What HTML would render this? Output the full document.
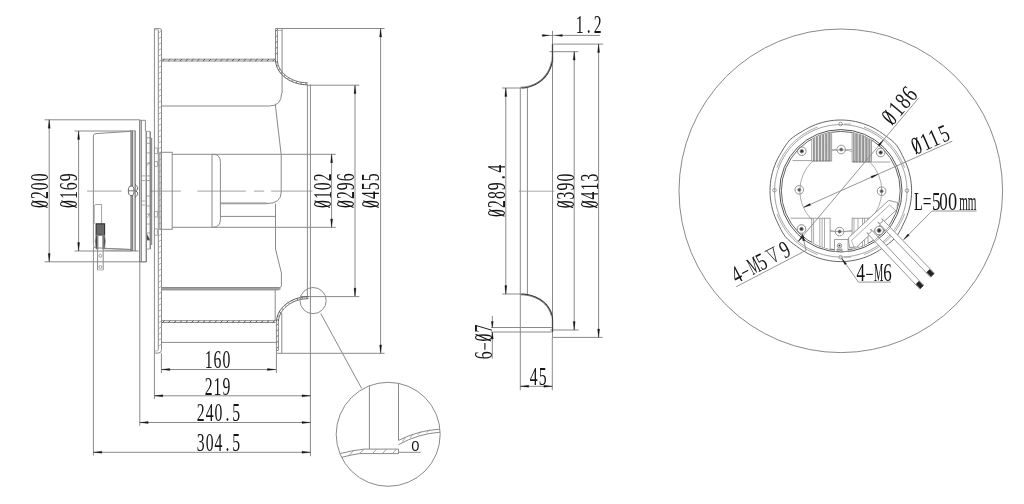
<!DOCTYPE html>
<html><head><meta charset="utf-8"><style>
html,body{margin:0;padding:0;background:#fff;width:1024px;height:504px;overflow:hidden;}
svg{display:block;will-change:transform;}

</style></head><body>
<svg width="1024" height="504" viewBox="0 0 1024 504">
<rect width="1024" height="504" fill="#fff"/>
<line x1="87.00" y1="191.10" x2="121.60" y2="191.10" stroke="#8a8a8a" stroke-width="0.8" />
<line x1="150.30" y1="191.10" x2="180.80" y2="191.10" stroke="#8a8a8a" stroke-width="0.8" />
<line x1="197.50" y1="191.10" x2="245.80" y2="191.10" stroke="#8a8a8a" stroke-width="0.8" />
<line x1="254.00" y1="191.10" x2="264.20" y2="191.10" stroke="#8a8a8a" stroke-width="0.8" />
<line x1="271.10" y1="191.10" x2="312.40" y2="191.10" stroke="#8a8a8a" stroke-width="0.8" />
<line x1="44.50" y1="119.80" x2="140.00" y2="119.80" stroke="#8a8a8a" stroke-width="1.0" />
<line x1="44.50" y1="261.80" x2="146.00" y2="261.80" stroke="#8a8a8a" stroke-width="1.0" />
<line x1="49.20" y1="119.80" x2="49.20" y2="261.80" stroke="#8a8a8a" stroke-width="1.0" />
<path d="M49.20,119.80 L50.20,128.20 L48.20,128.20 Z" fill="#151515" stroke="#151515" stroke-width="0.3"/>
<path d="M49.20,261.80 L48.20,253.40 L50.20,253.40 Z" fill="#151515" stroke="#151515" stroke-width="0.3"/>
<g transform="translate(48.00,190.70) rotate(-90)" font-family="Liberation Serif" font-size="24.8" fill="#151515" text-anchor="middle"><text transform="translate(-13.35,0) scale(0.635,1)">0</text><line x1="-16.75" y1="-0.5" x2="-9.95" y2="-15.92" stroke="#151515" stroke-width="1.1"/><text transform="translate(-4.45,0) scale(0.635,1)">2</text><text transform="translate(4.45,0) scale(0.635,1)">0</text><text transform="translate(13.35,0) scale(0.635,1)">0</text></g>
<line x1="74.50" y1="131.00" x2="131.00" y2="131.00" stroke="#8a8a8a" stroke-width="1.0" />
<line x1="74.50" y1="251.00" x2="138.60" y2="251.00" stroke="#8a8a8a" stroke-width="1.0" />
<line x1="78.60" y1="131.00" x2="78.60" y2="251.00" stroke="#8a8a8a" stroke-width="1.0" />
<path d="M78.60,131.00 L79.60,139.40 L77.60,139.40 Z" fill="#151515" stroke="#151515" stroke-width="0.3"/>
<path d="M78.60,251.00 L77.60,242.60 L79.60,242.60 Z" fill="#151515" stroke="#151515" stroke-width="0.3"/>
<g transform="translate(77.20,190.70) rotate(-90)" font-family="Liberation Serif" font-size="24.8" fill="#151515" text-anchor="middle"><text transform="translate(-13.35,0) scale(0.635,1)">0</text><line x1="-16.75" y1="-0.5" x2="-9.95" y2="-15.92" stroke="#151515" stroke-width="1.1"/><text transform="translate(-4.45,0) scale(0.635,1)">1</text><text transform="translate(4.45,0) scale(0.635,1)">6</text><text transform="translate(13.35,0) scale(0.635,1)">9</text></g>
<path d="M93.4,245 L93.4,136 Q93.4,133.7 96,133.6 L130,131.4" stroke="#8a8a8a" stroke-width="1.0" fill="none" />
<path d="M93.4,245 Q93.4,247.8 96,247.8 L130.5,249.6" stroke="#8a8a8a" stroke-width="1.0" fill="none" />
<line x1="104.60" y1="248.60" x2="131.00" y2="249.40" stroke="#8a8a8a" stroke-width="0.9" />
<line x1="104.60" y1="250.20" x2="131.00" y2="251.00" stroke="#8a8a8a" stroke-width="0.6" />
<line x1="131.10" y1="130.60" x2="131.10" y2="251.00" stroke="#555" stroke-width="1.1" />
<line x1="132.70" y1="130.60" x2="132.70" y2="251.00" stroke="#555" stroke-width="0.9" />
<line x1="135.10" y1="130.60" x2="135.10" y2="251.00" stroke="#555" stroke-width="1.0" />
<line x1="130.00" y1="130.80" x2="135.10" y2="130.80" stroke="#8a8a8a" stroke-width="0.8" />
<line x1="139.80" y1="120.30" x2="139.80" y2="262.00" stroke="#555" stroke-width="1.0" />
<line x1="141.40" y1="120.30" x2="141.40" y2="262.00" stroke="#666" stroke-width="0.8" />
<line x1="145.40" y1="120.30" x2="145.40" y2="131.40" stroke="#8a8a8a" stroke-width="1.0" />
<line x1="139.80" y1="120.30" x2="145.40" y2="120.30" stroke="#8a8a8a" stroke-width="1.0" />
<line x1="139.80" y1="261.80" x2="146.20" y2="261.80" stroke="#8a8a8a" stroke-width="1.0" />
<line x1="146.20" y1="131.40" x2="146.20" y2="262.00" stroke="#555" stroke-width="1.0" />
<line x1="150.20" y1="131.40" x2="150.20" y2="249.00" stroke="#555" stroke-width="1.0" />
<line x1="151.70" y1="137.80" x2="151.70" y2="245.00" stroke="#666" stroke-width="0.9" />
<line x1="146.20" y1="131.40" x2="150.20" y2="131.40" stroke="#8a8a8a" stroke-width="0.8" />
<line x1="146.20" y1="137.80" x2="150.20" y2="137.80" stroke="#8a8a8a" stroke-width="0.8" />
<line x1="146.20" y1="143.30" x2="150.20" y2="143.30" stroke="#8a8a8a" stroke-width="0.8" />
<line x1="146.20" y1="152.90" x2="150.20" y2="152.90" stroke="#8a8a8a" stroke-width="0.8" />
<line x1="146.20" y1="163.20" x2="150.20" y2="163.20" stroke="#8a8a8a" stroke-width="0.8" />
<line x1="146.20" y1="175.90" x2="150.20" y2="175.90" stroke="#8a8a8a" stroke-width="0.8" />
<line x1="146.20" y1="180.60" x2="150.20" y2="180.60" stroke="#8a8a8a" stroke-width="0.8" />
<line x1="146.20" y1="196.00" x2="150.20" y2="196.00" stroke="#8a8a8a" stroke-width="0.8" />
<line x1="146.20" y1="206.00" x2="150.20" y2="206.00" stroke="#8a8a8a" stroke-width="0.8" />
<line x1="146.20" y1="214.00" x2="150.20" y2="214.00" stroke="#8a8a8a" stroke-width="0.8" />
<line x1="146.20" y1="224.00" x2="150.20" y2="224.00" stroke="#8a8a8a" stroke-width="0.8" />
<line x1="146.20" y1="233.00" x2="150.20" y2="233.00" stroke="#8a8a8a" stroke-width="0.8" />
<line x1="146.20" y1="240.00" x2="150.20" y2="240.00" stroke="#8a8a8a" stroke-width="0.8" />
<line x1="146.20" y1="249.00" x2="150.20" y2="249.00" stroke="#8a8a8a" stroke-width="0.8" />
<line x1="141.40" y1="175.90" x2="145.40" y2="175.90" stroke="#8a8a8a" stroke-width="0.7" />
<line x1="141.40" y1="180.60" x2="145.40" y2="180.60" stroke="#8a8a8a" stroke-width="0.7" />
<line x1="141.40" y1="201.00" x2="145.40" y2="201.00" stroke="#8a8a8a" stroke-width="0.7" />
<line x1="141.40" y1="205.00" x2="145.40" y2="205.00" stroke="#8a8a8a" stroke-width="0.7" />
<path d="M146.6,233.6 L150,240 L147,240 Z" stroke="#8a8a8a" stroke-width="0.6" fill="#333" />
<path d="M147,218 L149.5,214 L150.5,218" stroke="#8a8a8a" stroke-width="0.6" fill="none" />
<path d="M147,166 L149.5,162 L150.5,166" stroke="#8a8a8a" stroke-width="0.6" fill="none" />
<rect x="154.30" y="148.00" width="3.00" height="5.70" rx="0" stroke="#8a8a8a" stroke-width="0.7" fill="none"/>
<rect x="154.30" y="161.60" width="3.00" height="4.70" rx="0" stroke="#8a8a8a" stroke-width="0.7" fill="none"/>
<rect x="154.30" y="211.40" width="3.00" height="5.60" rx="0" stroke="#8a8a8a" stroke-width="0.7" fill="none"/>
<rect x="154.30" y="228.90" width="3.00" height="6.30" rx="0" stroke="#8a8a8a" stroke-width="0.7" fill="none"/>
<ellipse cx="131.2" cy="190.8" rx="2.9" ry="4.8" fill="#fff" stroke="#555" stroke-width="0.9"/>
<line x1="128.30" y1="190.80" x2="134.10" y2="190.80" stroke="#555" stroke-width="0.8" />
<path d="M135.1,184.5 L137.8,187.2 Q138,190.2 135.6,190.8 Q138,191.6 137.8,194.6 L135.1,197.2" stroke="#555" stroke-width="0.9" fill="none" />
<path d="M94.2,223.8 L94.2,205.5 L95.5,204.5 L101.6,204.5 L101.6,223.8" stroke="#8a8a8a" stroke-width="0.8" fill="none" />
<rect x="96.10" y="223.80" width="8.50" height="11.20" rx="0" stroke="#333" stroke-width="1.1" fill="#888"/>
<line x1="96.10" y1="225.00" x2="104.60" y2="225.00" stroke="#222" stroke-width="0.6" />
<line x1="96.10" y1="227.00" x2="104.60" y2="227.00" stroke="#222" stroke-width="0.6" />
<line x1="96.10" y1="229.00" x2="104.60" y2="229.00" stroke="#222" stroke-width="0.6" />
<line x1="96.10" y1="231.00" x2="104.60" y2="231.00" stroke="#222" stroke-width="0.6" />
<line x1="96.10" y1="233.00" x2="104.60" y2="233.00" stroke="#222" stroke-width="0.6" />
<path d="M96.1,235 L95.2,241 L96.1,249 L98,249 L98,235 Z" stroke="#8a8a8a" stroke-width="0.7" fill="#444" />
<path d="M104.6,235 L105.3,241 L104.6,249 L102.8,249 L102.8,235 Z" stroke="#8a8a8a" stroke-width="0.7" fill="#444" />
<line x1="97.60" y1="235.00" x2="97.60" y2="270.00" stroke="#8a8a8a" stroke-width="1.0" />
<line x1="103.20" y1="235.00" x2="103.20" y2="270.00" stroke="#8a8a8a" stroke-width="1.0" />
<circle cx="100.40" cy="255.80" r="1.50" stroke="#8a8a8a" stroke-width="0.8" fill="none" />
<circle cx="100.40" cy="267.00" r="1.50" stroke="#8a8a8a" stroke-width="0.8" fill="none" />
<line x1="97.60" y1="270.00" x2="103.20" y2="270.00" stroke="#8a8a8a" stroke-width="0.6" />
<line x1="139.80" y1="262.00" x2="139.80" y2="425.80" stroke="#8a8a8a" stroke-width="1.0" />
<line x1="93.40" y1="247.00" x2="93.40" y2="455.50" stroke="#8a8a8a" stroke-width="1.0" />
<line x1="154.40" y1="28.60" x2="154.40" y2="399.00" stroke="#8a8a8a" stroke-width="1.0" />
<path d="M154.4,28.6 L159.8,28.6 Q161.5,28.6 161.5,31" stroke="#8a8a8a" stroke-width="1.0" fill="none" />
<line x1="154.40" y1="29.80" x2="158.30" y2="29.80" stroke="#8a8a8a" stroke-width="0.6" />
<line x1="158.30" y1="30.00" x2="158.30" y2="349.80" stroke="#8a8a8a" stroke-width="1.0" />
<line x1="161.50" y1="30.00" x2="161.50" y2="349.80" stroke="#8a8a8a" stroke-width="1.0" />
<line x1="158.30" y1="33.00" x2="161.50" y2="31.00" stroke="#9a9a9a" stroke-width="0.8" />
<line x1="158.30" y1="38.80" x2="161.50" y2="36.80" stroke="#9a9a9a" stroke-width="0.8" />
<line x1="158.30" y1="44.60" x2="161.50" y2="42.60" stroke="#9a9a9a" stroke-width="0.8" />
<line x1="158.30" y1="50.40" x2="161.50" y2="48.40" stroke="#9a9a9a" stroke-width="0.8" />
<line x1="158.30" y1="56.20" x2="161.50" y2="54.20" stroke="#9a9a9a" stroke-width="0.8" />
<line x1="158.30" y1="62.00" x2="161.50" y2="60.00" stroke="#9a9a9a" stroke-width="0.8" />
<line x1="158.30" y1="67.80" x2="161.50" y2="65.80" stroke="#9a9a9a" stroke-width="0.8" />
<line x1="158.30" y1="73.60" x2="161.50" y2="71.60" stroke="#9a9a9a" stroke-width="0.8" />
<line x1="158.30" y1="79.40" x2="161.50" y2="77.40" stroke="#9a9a9a" stroke-width="0.8" />
<line x1="158.30" y1="85.20" x2="161.50" y2="83.20" stroke="#9a9a9a" stroke-width="0.8" />
<line x1="158.30" y1="91.00" x2="161.50" y2="89.00" stroke="#9a9a9a" stroke-width="0.8" />
<line x1="158.30" y1="96.80" x2="161.50" y2="94.80" stroke="#9a9a9a" stroke-width="0.8" />
<line x1="158.30" y1="102.60" x2="161.50" y2="100.60" stroke="#9a9a9a" stroke-width="0.8" />
<line x1="158.30" y1="108.40" x2="161.50" y2="106.40" stroke="#9a9a9a" stroke-width="0.8" />
<line x1="158.30" y1="114.20" x2="161.50" y2="112.20" stroke="#9a9a9a" stroke-width="0.8" />
<line x1="158.30" y1="120.00" x2="161.50" y2="118.00" stroke="#9a9a9a" stroke-width="0.8" />
<line x1="158.30" y1="125.80" x2="161.50" y2="123.80" stroke="#9a9a9a" stroke-width="0.8" />
<line x1="158.30" y1="131.60" x2="161.50" y2="129.60" stroke="#9a9a9a" stroke-width="0.8" />
<line x1="158.30" y1="137.40" x2="161.50" y2="135.40" stroke="#9a9a9a" stroke-width="0.8" />
<line x1="158.30" y1="143.20" x2="161.50" y2="141.20" stroke="#9a9a9a" stroke-width="0.8" />
<line x1="158.30" y1="149.00" x2="161.50" y2="147.00" stroke="#9a9a9a" stroke-width="0.8" />
<line x1="158.30" y1="154.80" x2="161.50" y2="152.80" stroke="#9a9a9a" stroke-width="0.8" />
<line x1="158.30" y1="160.60" x2="161.50" y2="158.60" stroke="#9a9a9a" stroke-width="0.8" />
<line x1="158.30" y1="166.40" x2="161.50" y2="164.40" stroke="#9a9a9a" stroke-width="0.8" />
<line x1="158.30" y1="172.20" x2="161.50" y2="170.20" stroke="#9a9a9a" stroke-width="0.8" />
<line x1="158.30" y1="178.00" x2="161.50" y2="176.00" stroke="#9a9a9a" stroke-width="0.8" />
<line x1="158.30" y1="183.80" x2="161.50" y2="181.80" stroke="#9a9a9a" stroke-width="0.8" />
<line x1="158.30" y1="189.60" x2="161.50" y2="187.60" stroke="#9a9a9a" stroke-width="0.8" />
<line x1="158.30" y1="195.40" x2="161.50" y2="193.40" stroke="#9a9a9a" stroke-width="0.8" />
<line x1="158.30" y1="201.20" x2="161.50" y2="199.20" stroke="#9a9a9a" stroke-width="0.8" />
<line x1="158.30" y1="207.00" x2="161.50" y2="205.00" stroke="#9a9a9a" stroke-width="0.8" />
<line x1="158.30" y1="212.80" x2="161.50" y2="210.80" stroke="#9a9a9a" stroke-width="0.8" />
<line x1="158.30" y1="218.60" x2="161.50" y2="216.60" stroke="#9a9a9a" stroke-width="0.8" />
<line x1="158.30" y1="224.40" x2="161.50" y2="222.40" stroke="#9a9a9a" stroke-width="0.8" />
<line x1="158.30" y1="230.20" x2="161.50" y2="228.20" stroke="#9a9a9a" stroke-width="0.8" />
<line x1="158.30" y1="236.00" x2="161.50" y2="234.00" stroke="#9a9a9a" stroke-width="0.8" />
<line x1="158.30" y1="241.80" x2="161.50" y2="239.80" stroke="#9a9a9a" stroke-width="0.8" />
<line x1="158.30" y1="247.60" x2="161.50" y2="245.60" stroke="#9a9a9a" stroke-width="0.8" />
<line x1="158.30" y1="253.40" x2="161.50" y2="251.40" stroke="#9a9a9a" stroke-width="0.8" />
<line x1="158.30" y1="259.20" x2="161.50" y2="257.20" stroke="#9a9a9a" stroke-width="0.8" />
<line x1="158.30" y1="265.00" x2="161.50" y2="263.00" stroke="#9a9a9a" stroke-width="0.8" />
<line x1="158.30" y1="270.80" x2="161.50" y2="268.80" stroke="#9a9a9a" stroke-width="0.8" />
<line x1="158.30" y1="276.60" x2="161.50" y2="274.60" stroke="#9a9a9a" stroke-width="0.8" />
<line x1="158.30" y1="282.40" x2="161.50" y2="280.40" stroke="#9a9a9a" stroke-width="0.8" />
<line x1="158.30" y1="288.20" x2="161.50" y2="286.20" stroke="#9a9a9a" stroke-width="0.8" />
<line x1="158.30" y1="294.00" x2="161.50" y2="292.00" stroke="#9a9a9a" stroke-width="0.8" />
<line x1="158.30" y1="299.80" x2="161.50" y2="297.80" stroke="#9a9a9a" stroke-width="0.8" />
<line x1="158.30" y1="305.60" x2="161.50" y2="303.60" stroke="#9a9a9a" stroke-width="0.8" />
<line x1="158.30" y1="311.40" x2="161.50" y2="309.40" stroke="#9a9a9a" stroke-width="0.8" />
<line x1="158.30" y1="317.20" x2="161.50" y2="315.20" stroke="#9a9a9a" stroke-width="0.8" />
<line x1="158.30" y1="323.00" x2="161.50" y2="321.00" stroke="#9a9a9a" stroke-width="0.8" />
<line x1="158.30" y1="328.80" x2="161.50" y2="326.80" stroke="#9a9a9a" stroke-width="0.8" />
<line x1="158.30" y1="334.60" x2="161.50" y2="332.60" stroke="#9a9a9a" stroke-width="0.8" />
<line x1="158.30" y1="340.40" x2="161.50" y2="338.40" stroke="#9a9a9a" stroke-width="0.8" />
<line x1="158.30" y1="346.20" x2="161.50" y2="344.20" stroke="#9a9a9a" stroke-width="0.8" />
<path d="M158.3,349.8 Q158.3,351 156,351 L154.4,351" stroke="#8a8a8a" stroke-width="0.7" fill="none" />
<path d="M161.5,349.8 Q161.5,353.1 158,353.1 L154.4,353.1" stroke="#8a8a8a" stroke-width="1.0" fill="none" />
<line x1="161.50" y1="59.20" x2="275.50" y2="59.20" stroke="#8a8a8a" stroke-width="1.0" />
<line x1="161.50" y1="61.00" x2="275.50" y2="61.00" stroke="#8a8a8a" stroke-width="1.0" />
<line x1="162.50" y1="61.00" x2="164.50" y2="59.20" stroke="#555" stroke-width="1.0" />
<line x1="168.30" y1="61.00" x2="170.30" y2="59.20" stroke="#555" stroke-width="1.0" />
<line x1="174.10" y1="61.00" x2="176.10" y2="59.20" stroke="#555" stroke-width="1.0" />
<line x1="179.90" y1="61.00" x2="181.90" y2="59.20" stroke="#555" stroke-width="1.0" />
<line x1="185.70" y1="61.00" x2="187.70" y2="59.20" stroke="#555" stroke-width="1.0" />
<line x1="191.50" y1="61.00" x2="193.50" y2="59.20" stroke="#555" stroke-width="1.0" />
<line x1="197.30" y1="61.00" x2="199.30" y2="59.20" stroke="#555" stroke-width="1.0" />
<line x1="203.10" y1="61.00" x2="205.10" y2="59.20" stroke="#555" stroke-width="1.0" />
<line x1="208.90" y1="61.00" x2="210.90" y2="59.20" stroke="#555" stroke-width="1.0" />
<line x1="214.70" y1="61.00" x2="216.70" y2="59.20" stroke="#555" stroke-width="1.0" />
<line x1="220.50" y1="61.00" x2="222.50" y2="59.20" stroke="#555" stroke-width="1.0" />
<line x1="226.30" y1="61.00" x2="228.30" y2="59.20" stroke="#555" stroke-width="1.0" />
<line x1="232.10" y1="61.00" x2="234.10" y2="59.20" stroke="#555" stroke-width="1.0" />
<line x1="237.90" y1="61.00" x2="239.90" y2="59.20" stroke="#555" stroke-width="1.0" />
<line x1="243.70" y1="61.00" x2="245.70" y2="59.20" stroke="#555" stroke-width="1.0" />
<line x1="249.50" y1="61.00" x2="251.50" y2="59.20" stroke="#555" stroke-width="1.0" />
<line x1="255.30" y1="61.00" x2="257.30" y2="59.20" stroke="#555" stroke-width="1.0" />
<line x1="261.10" y1="61.00" x2="263.10" y2="59.20" stroke="#555" stroke-width="1.0" />
<line x1="266.90" y1="61.00" x2="268.90" y2="59.20" stroke="#555" stroke-width="1.0" />
<line x1="272.70" y1="61.00" x2="274.70" y2="59.20" stroke="#555" stroke-width="1.0" />
<line x1="275.50" y1="28.50" x2="275.50" y2="59.50" stroke="#8a8a8a" stroke-width="1.0" />
<line x1="277.40" y1="28.50" x2="277.40" y2="59.50" stroke="#8a8a8a" stroke-width="1.0" />
<line x1="275.50" y1="31.50" x2="277.40" y2="29.50" stroke="#666" stroke-width="0.9" />
<line x1="275.50" y1="37.30" x2="277.40" y2="35.30" stroke="#666" stroke-width="0.9" />
<line x1="275.50" y1="43.10" x2="277.40" y2="41.10" stroke="#666" stroke-width="0.9" />
<line x1="275.50" y1="48.90" x2="277.40" y2="46.90" stroke="#666" stroke-width="0.9" />
<line x1="275.50" y1="54.70" x2="277.40" y2="52.70" stroke="#666" stroke-width="0.9" />
<line x1="275.50" y1="28.50" x2="384.60" y2="28.50" stroke="#8a8a8a" stroke-width="1.0" />
<line x1="277.40" y1="30.50" x2="282.10" y2="30.50" stroke="#8a8a8a" stroke-width="0.6" />
<line x1="282.10" y1="28.50" x2="282.10" y2="93.00" stroke="#8a8a8a" stroke-width="1.0" />
<path d="M161.5,106 L269.4,106 Q281.6,106 281.6,93" stroke="#8a8a8a" stroke-width="1.0" fill="none" />
<path d="M275.2,103.7 L281.2,154.8 L281.2,192 Q281.2,203.6 266.7,203.6 L220.4,203.6" stroke="#8a8a8a" stroke-width="1.0" fill="none" />
<rect x="220.4" y="202.4" width="46.3" height="1.8" fill="#a0a0a0"/>
<path d="M275.50,59.50 L275.54,60.82 L275.68,62.14 L275.90,63.46 L276.21,64.76 L276.60,66.05 L277.08,67.32 L277.65,68.57 L278.29,69.79 L279.02,70.99 L279.83,72.15 L280.71,73.28 L281.67,74.37 L282.70,75.42 L283.80,76.43 L284.96,77.39 L286.19,78.30 L287.47,79.16 L288.81,79.97 L290.21,80.72 L291.65,81.41 L293.14,82.04 L294.66,82.61 L296.22,83.12 L297.82,83.56 L299.44,83.94 L301.08,84.25 L302.75,84.49 L304.42,84.66 L306.11,84.77 L307.80,84.80" stroke="#5a5a5a" stroke-width="1.0" fill="none" />
<path d="M277.40,59.50 L277.44,60.72 L277.57,61.94 L277.77,63.14 L278.06,64.34 L278.44,65.53 L278.89,66.70 L279.42,67.85 L280.03,68.98 L280.71,70.08 L281.47,71.15 L282.30,72.19 L283.21,73.20 L284.17,74.16 L285.21,75.09 L286.30,75.98 L287.46,76.82 L288.67,77.61 L289.93,78.35 L291.24,79.04 L292.60,79.68 L294.00,80.26 L295.44,80.79 L296.91,81.25 L298.41,81.66 L299.93,82.01 L301.48,82.29 L303.04,82.51 L304.62,82.67 L306.21,82.77 L307.80,82.80" stroke="#6a6a6a" stroke-width="1.0" fill="none" />
<line x1="275.68" y1="62.14" x2="277.57" y2="61.94" stroke="#666" stroke-width="0.8" />
<line x1="276.60" y1="66.05" x2="278.44" y2="65.53" stroke="#666" stroke-width="0.8" />
<line x1="278.29" y1="69.79" x2="280.03" y2="68.98" stroke="#666" stroke-width="0.8" />
<line x1="280.71" y1="73.28" x2="282.30" y2="72.19" stroke="#666" stroke-width="0.8" />
<line x1="283.80" y1="76.43" x2="285.21" y2="75.09" stroke="#666" stroke-width="0.8" />
<line x1="287.47" y1="79.16" x2="288.67" y2="77.61" stroke="#666" stroke-width="0.8" />
<line x1="291.65" y1="81.41" x2="292.60" y2="79.68" stroke="#666" stroke-width="0.8" />
<line x1="296.22" y1="83.12" x2="296.91" y2="81.25" stroke="#666" stroke-width="0.8" />
<line x1="301.08" y1="84.25" x2="301.48" y2="82.29" stroke="#666" stroke-width="0.8" />
<line x1="306.11" y1="84.77" x2="306.21" y2="82.77" stroke="#666" stroke-width="0.8" />
<line x1="307.40" y1="84.50" x2="307.40" y2="297.00" stroke="#8a8a8a" stroke-width="1.0" />
<line x1="310.40" y1="84.50" x2="310.40" y2="456.20" stroke="#8a8a8a" stroke-width="1.0" />
<line x1="307.80" y1="85.20" x2="359.30" y2="85.20" stroke="#8a8a8a" stroke-width="1.0" />
<line x1="355.00" y1="85.20" x2="355.00" y2="296.60" stroke="#8a8a8a" stroke-width="1.0" />
<path d="M355.00,85.20 L356.00,93.60 L354.00,93.60 Z" fill="#151515" stroke="#151515" stroke-width="0.3"/>
<path d="M355.00,296.60 L354.00,288.20 L356.00,288.20 Z" fill="#151515" stroke="#151515" stroke-width="0.3"/>
<line x1="300.80" y1="296.60" x2="359.30" y2="296.60" stroke="#8a8a8a" stroke-width="1.0" />
<g transform="translate(354.00,190.70) rotate(-90)" font-family="Liberation Serif" font-size="24.8" fill="#151515" text-anchor="middle"><text transform="translate(-13.35,0) scale(0.635,1)">0</text><line x1="-16.75" y1="-0.5" x2="-9.95" y2="-15.92" stroke="#151515" stroke-width="1.1"/><text transform="translate(-4.45,0) scale(0.635,1)">2</text><text transform="translate(4.45,0) scale(0.635,1)">9</text><text transform="translate(13.35,0) scale(0.635,1)">6</text></g>
<line x1="380.60" y1="28.50" x2="380.60" y2="353.30" stroke="#8a8a8a" stroke-width="1.0" />
<path d="M380.60,28.50 L381.60,36.90 L379.60,36.90 Z" fill="#151515" stroke="#151515" stroke-width="0.3"/>
<path d="M380.60,353.30 L379.60,344.90 L381.60,344.90 Z" fill="#151515" stroke="#151515" stroke-width="0.3"/>
<line x1="277.00" y1="353.30" x2="384.60" y2="353.30" stroke="#8a8a8a" stroke-width="1.0" />
<g transform="translate(379.20,190.70) rotate(-90)" font-family="Liberation Serif" font-size="24.8" fill="#151515" text-anchor="middle"><text transform="translate(-13.35,0) scale(0.635,1)">0</text><line x1="-16.75" y1="-0.5" x2="-9.95" y2="-15.92" stroke="#151515" stroke-width="1.1"/><text transform="translate(-4.45,0) scale(0.635,1)">4</text><text transform="translate(4.45,0) scale(0.635,1)">5</text><text transform="translate(13.35,0) scale(0.635,1)">5</text></g>
<rect x="159.90" y="152.30" width="12.30" height="77.00" rx="0" stroke="#8a8a8a" stroke-width="1.0" fill="none"/>
<line x1="172.20" y1="154.30" x2="335.70" y2="154.30" stroke="#8a8a8a" stroke-width="1.0" />
<line x1="172.20" y1="227.30" x2="335.70" y2="227.30" stroke="#8a8a8a" stroke-width="1.0" />
<path d="M212,154.3 L213,154.3 Q220.4,154.3 220.4,162.3 L220.4,219.3 Q220.4,227.3 213,227.3 L212,227.3" stroke="#8a8a8a" stroke-width="1.0" fill="none" />
<line x1="212.00" y1="154.30" x2="212.00" y2="227.30" stroke="#8a8a8a" stroke-width="1.0" />
<line x1="220.40" y1="216.40" x2="275.50" y2="216.40" stroke="#8a8a8a" stroke-width="1.0" />
<line x1="331.60" y1="154.30" x2="331.60" y2="227.30" stroke="#8a8a8a" stroke-width="1.0" />
<path d="M331.60,154.30 L332.60,162.70 L330.60,162.70 Z" fill="#151515" stroke="#151515" stroke-width="0.3"/>
<path d="M331.60,227.30 L330.60,218.90 L332.60,218.90 Z" fill="#151515" stroke="#151515" stroke-width="0.3"/>
<g transform="translate(330.50,190.70) rotate(-90)" font-family="Liberation Serif" font-size="24.8" fill="#151515" text-anchor="middle"><text transform="translate(-13.35,0) scale(0.635,1)">0</text><line x1="-16.75" y1="-0.5" x2="-9.95" y2="-15.92" stroke="#151515" stroke-width="1.1"/><text transform="translate(-4.45,0) scale(0.635,1)">1</text><text transform="translate(4.45,0) scale(0.635,1)">0</text><text transform="translate(13.35,0) scale(0.635,1)">2</text></g>
<rect x="161.5" y="287.5" width="119" height="2.4" fill="#a0a0a0"/>
<path d="M275.5,203.6 L275.5,249 L281.4,272.9 L281.4,285.5 Q281.4,287.5 279.4,287.5 L161.5,287.5" stroke="#8a8a8a" stroke-width="1.0" fill="none" />
<line x1="161.50" y1="289.90" x2="278.60" y2="289.90" stroke="#8a8a8a" stroke-width="1.0" />
<line x1="275.20" y1="289.90" x2="275.20" y2="320.70" stroke="#8a8a8a" stroke-width="1.0" />
<line x1="161.50" y1="320.70" x2="275.50" y2="320.70" stroke="#8a8a8a" stroke-width="1.0" />
<line x1="161.50" y1="322.50" x2="275.50" y2="322.50" stroke="#8a8a8a" stroke-width="1.0" />
<line x1="162.50" y1="322.50" x2="164.50" y2="320.70" stroke="#555" stroke-width="1.0" />
<line x1="168.30" y1="322.50" x2="170.30" y2="320.70" stroke="#555" stroke-width="1.0" />
<line x1="174.10" y1="322.50" x2="176.10" y2="320.70" stroke="#555" stroke-width="1.0" />
<line x1="179.90" y1="322.50" x2="181.90" y2="320.70" stroke="#555" stroke-width="1.0" />
<line x1="185.70" y1="322.50" x2="187.70" y2="320.70" stroke="#555" stroke-width="1.0" />
<line x1="191.50" y1="322.50" x2="193.50" y2="320.70" stroke="#555" stroke-width="1.0" />
<line x1="197.30" y1="322.50" x2="199.30" y2="320.70" stroke="#555" stroke-width="1.0" />
<line x1="203.10" y1="322.50" x2="205.10" y2="320.70" stroke="#555" stroke-width="1.0" />
<line x1="208.90" y1="322.50" x2="210.90" y2="320.70" stroke="#555" stroke-width="1.0" />
<line x1="214.70" y1="322.50" x2="216.70" y2="320.70" stroke="#555" stroke-width="1.0" />
<line x1="220.50" y1="322.50" x2="222.50" y2="320.70" stroke="#555" stroke-width="1.0" />
<line x1="226.30" y1="322.50" x2="228.30" y2="320.70" stroke="#555" stroke-width="1.0" />
<line x1="232.10" y1="322.50" x2="234.10" y2="320.70" stroke="#555" stroke-width="1.0" />
<line x1="237.90" y1="322.50" x2="239.90" y2="320.70" stroke="#555" stroke-width="1.0" />
<line x1="243.70" y1="322.50" x2="245.70" y2="320.70" stroke="#555" stroke-width="1.0" />
<line x1="249.50" y1="322.50" x2="251.50" y2="320.70" stroke="#555" stroke-width="1.0" />
<line x1="255.30" y1="322.50" x2="257.30" y2="320.70" stroke="#555" stroke-width="1.0" />
<line x1="261.10" y1="322.50" x2="263.10" y2="320.70" stroke="#555" stroke-width="1.0" />
<line x1="266.90" y1="322.50" x2="268.90" y2="320.70" stroke="#555" stroke-width="1.0" />
<line x1="272.70" y1="322.50" x2="274.70" y2="320.70" stroke="#555" stroke-width="1.0" />
<line x1="161.50" y1="342.40" x2="276.00" y2="342.40" stroke="#8a8a8a" stroke-width="1.0" />
<path d="M276.40,322.50 L276.44,321.15 L276.58,319.80 L276.80,318.46 L277.10,317.14 L277.49,315.82 L277.97,314.53 L278.53,313.25 L279.18,312.01 L279.90,310.79 L280.70,309.60 L281.58,308.45 L282.53,307.34 L283.55,306.26 L284.65,305.24 L285.80,304.26 L287.02,303.33 L288.30,302.45 L289.63,301.63 L291.02,300.86 L292.45,300.16 L293.93,299.51 L295.44,298.93 L297.00,298.41 L298.58,297.96 L300.19,297.58 L301.83,297.26 L303.48,297.02 L305.14,296.84 L306.82,296.74 L308.50,296.70" stroke="#5a5a5a" stroke-width="1.0" fill="none" />
<path d="M278.40,322.50 L278.44,321.25 L278.56,320.01 L278.77,318.78 L279.06,317.55 L279.43,316.34 L279.87,315.15 L280.40,313.97 L281.00,312.82 L281.68,311.70 L282.43,310.60 L283.26,309.54 L284.15,308.51 L285.11,307.52 L286.13,306.57 L287.22,305.67 L288.36,304.81 L289.56,304.00 L290.81,303.25 L292.11,302.54 L293.45,301.89 L294.83,301.29 L296.26,300.76 L297.71,300.28 L299.20,299.86 L300.71,299.51 L302.24,299.22 L303.79,298.99 L305.35,298.83 L306.92,298.73 L308.50,298.70" stroke="#6a6a6a" stroke-width="1.0" fill="none" />
<line x1="276.58" y1="319.80" x2="278.56" y2="320.01" stroke="#666" stroke-width="0.8" />
<line x1="277.49" y1="315.82" x2="279.43" y2="316.34" stroke="#666" stroke-width="0.8" />
<line x1="279.18" y1="312.01" x2="281.00" y2="312.82" stroke="#666" stroke-width="0.8" />
<line x1="281.58" y1="308.45" x2="283.26" y2="309.54" stroke="#666" stroke-width="0.8" />
<line x1="284.65" y1="305.24" x2="286.13" y2="306.57" stroke="#666" stroke-width="0.8" />
<line x1="288.30" y1="302.45" x2="289.56" y2="304.00" stroke="#666" stroke-width="0.8" />
<line x1="292.45" y1="300.16" x2="293.45" y2="301.89" stroke="#666" stroke-width="0.8" />
<line x1="297.00" y1="298.41" x2="297.71" y2="300.28" stroke="#666" stroke-width="0.8" />
<line x1="301.83" y1="297.26" x2="302.24" y2="299.22" stroke="#666" stroke-width="0.8" />
<line x1="306.82" y1="296.74" x2="306.92" y2="298.73" stroke="#666" stroke-width="0.8" />
<line x1="276.40" y1="322.50" x2="276.40" y2="350.50" stroke="#8a8a8a" stroke-width="1.0" />
<line x1="278.40" y1="322.50" x2="278.40" y2="350.50" stroke="#8a8a8a" stroke-width="1.0" />
<line x1="276.40" y1="325.50" x2="278.40" y2="323.50" stroke="#666" stroke-width="0.9" />
<line x1="276.40" y1="331.30" x2="278.40" y2="329.30" stroke="#666" stroke-width="0.9" />
<line x1="276.40" y1="337.10" x2="278.40" y2="335.10" stroke="#666" stroke-width="0.9" />
<line x1="276.40" y1="342.90" x2="278.40" y2="340.90" stroke="#666" stroke-width="0.9" />
<line x1="276.40" y1="348.70" x2="278.40" y2="346.70" stroke="#666" stroke-width="0.9" />
<line x1="276.40" y1="350.50" x2="278.40" y2="350.50" stroke="#8a8a8a" stroke-width="1.0" />
<line x1="281.80" y1="313.00" x2="281.80" y2="353.30" stroke="#8a8a8a" stroke-width="1.0" />
<line x1="276.40" y1="350.00" x2="276.40" y2="373.00" stroke="#8a8a8a" stroke-width="1.0" />
<circle cx="313.10" cy="300.60" r="13.10" stroke="#8a8a8a" stroke-width="1.0" fill="none" />
<line x1="320.70" y1="313.50" x2="361.70" y2="388.50" stroke="#8a8a8a" stroke-width="1.0" />
<circle cx="388.20" cy="434.30" r="52.00" stroke="#8a8a8a" stroke-width="1.0" fill="none" />
<line x1="369.40" y1="385.50" x2="369.40" y2="449.10" stroke="#8a8a8a" stroke-width="1.0" />
<line x1="398.50" y1="383.00" x2="398.50" y2="440.40" stroke="#8a8a8a" stroke-width="1.0" />
<path d="M340.2,453.6 Q352,450.3 364.2,449.1 L398.5,449.1 L398.5,453.6 L359.3,453.6 Q350,455 341.6,457.4" stroke="#8a8a8a" stroke-width="1.0" fill="none" />
<line x1="372.50" y1="453.60" x2="376.50" y2="449.10" stroke="#8a8a8a" stroke-width="0.8" />
<line x1="382.50" y1="453.60" x2="386.50" y2="449.10" stroke="#8a8a8a" stroke-width="0.8" />
<line x1="392.50" y1="453.60" x2="396.50" y2="449.10" stroke="#8a8a8a" stroke-width="0.8" />
<line x1="348.50" y1="456.20" x2="353.50" y2="450.60" stroke="#8a8a8a" stroke-width="0.8" />
<line x1="359.50" y1="453.60" x2="364.00" y2="449.40" stroke="#8a8a8a" stroke-width="0.8" />
<path d="M398.5,440.4 Q418,430.5 439.6,429.2" stroke="#8a8a8a" stroke-width="1.0" fill="none" />
<path d="M398.5,444.6 Q418,433.8 440,432.2" stroke="#8a8a8a" stroke-width="1.0" fill="none" />
<line x1="402.50" y1="441.50" x2="405.50" y2="437.60" stroke="#8a8a8a" stroke-width="0.8" />
<line x1="410.00" y1="437.80" x2="413.00" y2="434.20" stroke="#8a8a8a" stroke-width="0.8" />
<line x1="418.00" y1="434.70" x2="421.00" y2="431.30" stroke="#8a8a8a" stroke-width="0.8" />
<line x1="426.50" y1="432.60" x2="429.50" y2="429.80" stroke="#8a8a8a" stroke-width="0.8" />
<line x1="398.50" y1="452.30" x2="420.70" y2="452.30" stroke="#8a8a8a" stroke-width="1.0" />
<text x="415.3" y="451" font-family="Liberation Sans" font-size="14.7" fill="#151515" text-anchor="middle">0</text>
<line x1="161.40" y1="353.10" x2="161.40" y2="373.00" stroke="#8a8a8a" stroke-width="1.0" />
<line x1="161.40" y1="369.50" x2="275.80" y2="369.50" stroke="#8a8a8a" stroke-width="1.0" />
<path d="M161.40,369.50 L169.80,368.50 L169.80,370.50 Z" fill="#151515" stroke="#151515" stroke-width="0.3"/>
<path d="M275.80,369.50 L267.40,370.50 L267.40,368.50 Z" fill="#151515" stroke="#151515" stroke-width="0.3"/>
<g transform="translate(217.50,368.20) rotate(0)" font-family="Liberation Serif" font-size="24.8" fill="#151515" text-anchor="middle"><text transform="translate(-8.90,0) scale(0.635,1)">1</text><text transform="translate(-0.00,0) scale(0.635,1)">6</text><text transform="translate(8.90,0) scale(0.635,1)">0</text></g>
<line x1="154.40" y1="395.80" x2="310.40" y2="395.80" stroke="#8a8a8a" stroke-width="1.0" />
<path d="M154.40,395.80 L162.80,394.80 L162.80,396.80 Z" fill="#151515" stroke="#151515" stroke-width="0.3"/>
<path d="M310.40,395.80 L302.00,396.80 L302.00,394.80 Z" fill="#151515" stroke="#151515" stroke-width="0.3"/>
<g transform="translate(217.50,394.50) rotate(0)" font-family="Liberation Serif" font-size="24.8" fill="#151515" text-anchor="middle"><text transform="translate(-8.90,0) scale(0.635,1)">2</text><text transform="translate(-0.00,0) scale(0.635,1)">1</text><text transform="translate(8.90,0) scale(0.635,1)">9</text></g>
<line x1="139.80" y1="422.50" x2="310.40" y2="422.50" stroke="#8a8a8a" stroke-width="1.0" />
<path d="M139.80,422.50 L148.20,421.50 L148.20,423.50 Z" fill="#151515" stroke="#151515" stroke-width="0.3"/>
<path d="M310.40,422.50 L302.00,423.50 L302.00,421.50 Z" fill="#151515" stroke="#151515" stroke-width="0.3"/>
<g transform="translate(218.50,421.20) rotate(0)" font-family="Liberation Serif" font-size="24.8" fill="#151515" text-anchor="middle"><text transform="translate(-17.80,0) scale(0.635,1)">2</text><text transform="translate(-8.90,0) scale(0.635,1)">4</text><text transform="translate(0.00,0) scale(0.635,1)">0</text><text transform="translate(8.90,0) scale(0.635,1)">.</text><text transform="translate(17.80,0) scale(0.635,1)">5</text></g>
<line x1="93.40" y1="452.30" x2="310.40" y2="452.30" stroke="#8a8a8a" stroke-width="1.0" />
<path d="M93.40,452.30 L101.80,451.30 L101.80,453.30 Z" fill="#151515" stroke="#151515" stroke-width="0.3"/>
<path d="M310.40,452.30 L302.00,453.30 L302.00,451.30 Z" fill="#151515" stroke="#151515" stroke-width="0.3"/>
<g transform="translate(218.50,450.60) rotate(0)" font-family="Liberation Serif" font-size="24.8" fill="#151515" text-anchor="middle"><text transform="translate(-17.80,0) scale(0.635,1)">3</text><text transform="translate(-8.90,0) scale(0.635,1)">0</text><text transform="translate(0.00,0) scale(0.635,1)">4</text><text transform="translate(8.90,0) scale(0.635,1)">.</text><text transform="translate(17.80,0) scale(0.635,1)">5</text></g>
<line x1="541.60" y1="35.40" x2="600.10" y2="35.40" stroke="#8a8a8a" stroke-width="1.0" />
<line x1="552.50" y1="30.80" x2="552.50" y2="337.40" stroke="#8a8a8a" stroke-width="1.0" />
<path d="M549.00,35.40 L542.50,36.40 L542.50,34.40 Z" fill="#151515" stroke="#151515" stroke-width="0.3"/>
<path d="M555.80,35.40 L562.30,34.40 L562.30,36.40 Z" fill="#151515" stroke="#151515" stroke-width="0.3"/>
<g transform="translate(588.70,33.40) rotate(0)" font-family="Liberation Serif" font-size="24.8" fill="#151515" text-anchor="middle"><text transform="translate(-8.90,0) scale(0.635,1)">1</text><text transform="translate(-0.00,0) scale(0.635,1)">.</text><text transform="translate(8.90,0) scale(0.635,1)">2</text></g>
<line x1="553.50" y1="44.10" x2="603.10" y2="44.10" stroke="#8a8a8a" stroke-width="1.0" />
<line x1="552.30" y1="337.40" x2="602.60" y2="337.40" stroke="#8a8a8a" stroke-width="1.0" />
<line x1="598.60" y1="44.10" x2="598.60" y2="337.40" stroke="#8a8a8a" stroke-width="1.0" />
<path d="M598.60,44.10 L599.60,52.50 L597.60,52.50 Z" fill="#151515" stroke="#151515" stroke-width="0.3"/>
<path d="M598.60,337.40 L597.60,329.00 L599.60,329.00 Z" fill="#151515" stroke="#151515" stroke-width="0.3"/>
<g transform="translate(597.80,191.00) rotate(-90)" font-family="Liberation Serif" font-size="24.8" fill="#151515" text-anchor="middle"><text transform="translate(-13.35,0) scale(0.635,1)">0</text><line x1="-16.75" y1="-0.5" x2="-9.95" y2="-15.92" stroke="#151515" stroke-width="1.1"/><text transform="translate(-4.45,0) scale(0.635,1)">4</text><text transform="translate(4.45,0) scale(0.635,1)">1</text><text transform="translate(13.35,0) scale(0.635,1)">3</text></g>
<line x1="549.50" y1="51.70" x2="578.30" y2="51.70" stroke="#8a8a8a" stroke-width="1.0" />
<line x1="550.50" y1="330.00" x2="578.60" y2="330.00" stroke="#8a8a8a" stroke-width="1.0" />
<line x1="574.20" y1="51.70" x2="574.20" y2="330.00" stroke="#8a8a8a" stroke-width="1.0" />
<path d="M574.20,51.70 L575.20,60.10 L573.20,60.10 Z" fill="#151515" stroke="#151515" stroke-width="0.3"/>
<path d="M574.20,330.00 L573.20,321.60 L575.20,321.60 Z" fill="#151515" stroke="#151515" stroke-width="0.3"/>
<g transform="translate(573.50,191.00) rotate(-90)" font-family="Liberation Serif" font-size="24.8" fill="#151515" text-anchor="middle"><text transform="translate(-13.35,0) scale(0.635,1)">0</text><line x1="-16.75" y1="-0.5" x2="-9.95" y2="-15.92" stroke="#151515" stroke-width="1.1"/><text transform="translate(-4.45,0) scale(0.635,1)">3</text><text transform="translate(4.45,0) scale(0.635,1)">9</text><text transform="translate(13.35,0) scale(0.635,1)">0</text></g>
<path d="M520.50,88.00 L522.17,87.96 L523.84,87.83 L525.51,87.62 L527.15,87.32 L528.78,86.94 L530.39,86.48 L531.97,85.94 L533.52,85.32 L535.03,84.62 L536.50,83.85 L537.93,83.00 L539.31,82.08 L540.64,81.09 L541.91,80.04 L543.13,78.92 L544.28,77.74 L545.37,76.51 L546.39,75.22 L547.34,73.88 L548.21,72.50 L549.01,71.07 L549.73,69.61 L550.37,68.11 L550.93,66.58 L551.41,65.02 L551.80,63.45 L552.11,61.85 L552.32,60.24 L552.46,58.62 L552.50,57.00" stroke="#3a3a3a" stroke-width="1.2" fill="none" />
<path d="M520.50,87.20 L521.95,87.17 L523.40,87.07 L524.84,86.91 L526.27,86.68 L527.70,86.39 L529.10,86.03 L530.49,85.61 L531.85,85.13 L533.19,84.59 L534.50,83.99 L535.78,83.33 L537.03,82.61 L538.25,81.84 L539.42,81.01 L540.55,80.13 L541.65,79.21 L542.69,78.23 L543.69,77.21 L544.63,76.14 L545.53,75.03 L546.37,73.89 L547.15,72.70 L547.88,71.49 L548.54,70.24 L549.15,68.96 L549.69,67.66 L550.17,66.33 L550.59,64.99 L550.94,63.62 L551.23,62.24" stroke="#555" stroke-width="0.8" fill="none" />
<path d="M520.50,294.00 L522.17,294.04 L523.84,294.14 L525.51,294.32 L527.15,294.57 L528.78,294.89 L530.39,295.27 L531.97,295.73 L533.52,296.25 L535.03,296.83 L536.50,297.48 L537.93,298.19 L539.31,298.97 L540.64,299.79 L541.91,300.68 L543.13,301.62 L544.28,302.60 L545.37,303.64 L546.39,304.72 L547.34,305.84 L548.21,307.00 L549.01,308.20 L549.73,309.42 L550.37,310.68 L550.93,311.97 L551.41,313.27 L551.80,314.59 L552.11,315.93 L552.32,317.28 L552.46,318.64 L552.50,320.00" stroke="#3a3a3a" stroke-width="1.2" fill="none" />
<path d="M520.50,294.80 L521.95,294.83 L523.40,294.91 L524.84,295.05 L526.27,295.24 L527.70,295.48 L529.10,295.78 L530.49,296.13 L531.85,296.53 L533.19,296.98 L534.50,297.48 L535.78,298.03 L537.03,298.63 L538.25,299.27 L539.42,299.96 L540.55,300.70 L541.65,301.47 L542.69,302.28 L543.69,303.14 L544.63,304.03 L545.53,304.95 L546.37,305.91 L547.15,306.90 L547.88,307.91 L548.54,308.95 L549.15,310.02 L549.69,311.11 L550.17,312.21 L550.59,313.34 L550.94,314.47 L551.23,315.62" stroke="#555" stroke-width="0.8" fill="none" />
<line x1="552.50" y1="44.00" x2="552.50" y2="62.00" stroke="#444" stroke-width="1.3" />
<line x1="552.50" y1="320.00" x2="552.50" y2="332.00" stroke="#444" stroke-width="1.3" />
<line x1="520.30" y1="88.00" x2="520.30" y2="390.20" stroke="#8a8a8a" stroke-width="1.0" />
<line x1="527.40" y1="87.60" x2="527.40" y2="294.00" stroke="#8a8a8a" stroke-width="1.0" />
<line x1="501.90" y1="88.00" x2="520.50" y2="88.00" stroke="#8a8a8a" stroke-width="1.0" />
<line x1="502.20" y1="294.00" x2="520.80" y2="294.00" stroke="#8a8a8a" stroke-width="1.0" />
<line x1="505.80" y1="88.00" x2="505.80" y2="294.00" stroke="#8a8a8a" stroke-width="1.0" />
<path d="M505.80,88.00 L506.80,96.40 L504.80,96.40 Z" fill="#151515" stroke="#151515" stroke-width="0.3"/>
<path d="M505.80,294.00 L504.80,285.60 L506.80,285.60 Z" fill="#151515" stroke="#151515" stroke-width="0.3"/>
<g transform="translate(505.00,190.70) rotate(-90)" font-family="Liberation Serif" font-size="24.8" fill="#151515" text-anchor="middle"><text transform="translate(-22.25,0) scale(0.635,1)">0</text><line x1="-25.65" y1="-0.5" x2="-18.85" y2="-15.92" stroke="#151515" stroke-width="1.1"/><text transform="translate(-13.35,0) scale(0.635,1)">2</text><text transform="translate(-4.45,0) scale(0.635,1)">8</text><text transform="translate(4.45,0) scale(0.635,1)">9</text><text transform="translate(13.35,0) scale(0.635,1)">.</text><text transform="translate(22.25,0) scale(0.635,1)">4</text></g>
<line x1="518.80" y1="191.20" x2="554.50" y2="191.20" stroke="#8a8a8a" stroke-width="0.7" />
<line x1="491.00" y1="327.50" x2="551.80" y2="327.50" stroke="#8a8a8a" stroke-width="1.0" />
<line x1="491.00" y1="332.00" x2="551.80" y2="332.00" stroke="#8a8a8a" stroke-width="1.0" />
<line x1="492.30" y1="315.90" x2="492.30" y2="327.50" stroke="#8a8a8a" stroke-width="1.0" />
<path d="M492.30,327.50 L491.30,321.50 L493.30,321.50 Z" fill="#151515" stroke="#151515" stroke-width="0.3"/>
<line x1="492.30" y1="332.00" x2="492.30" y2="358.70" stroke="#8a8a8a" stroke-width="1.0" />
<path d="M492.30,332.00 L493.30,339.00 L491.30,339.00 Z" fill="#151515" stroke="#151515" stroke-width="0.3"/>
<g transform="translate(491.50,342.00) rotate(-90)" font-family="Liberation Serif" font-size="24.8" fill="#151515" text-anchor="middle"><text transform="translate(-13.35,0) scale(0.635,1)">6</text><line x1="-7.85" y1="-6.6" x2="-1.05" y2="-6.6" stroke="#151515" stroke-width="1.1"/><text transform="translate(4.45,0) scale(0.635,1)">0</text><line x1="1.05" y1="-0.5" x2="7.85" y2="-15.92" stroke="#151515" stroke-width="1.1"/><text transform="translate(13.35,0) scale(0.635,1)">7</text></g>
<line x1="552.30" y1="337.40" x2="552.30" y2="390.20" stroke="#8a8a8a" stroke-width="1.0" />
<line x1="520.30" y1="386.30" x2="552.30" y2="386.30" stroke="#8a8a8a" stroke-width="1.0" />
<path d="M520.30,386.30 L528.70,385.30 L528.70,387.30 Z" fill="#151515" stroke="#151515" stroke-width="0.3"/>
<path d="M552.30,386.30 L543.90,387.30 L543.90,385.30 Z" fill="#151515" stroke="#151515" stroke-width="0.3"/>
<g transform="translate(538.20,385.00) rotate(0)" font-family="Liberation Serif" font-size="24.8" fill="#151515" text-anchor="middle"><text transform="translate(-4.45,0) scale(0.635,1)">4</text><text transform="translate(4.45,0) scale(0.635,1)">5</text></g>
<circle cx="840.80" cy="190.80" r="161.80" stroke="#8a8a8a" stroke-width="1.0" fill="none" />
<defs><clipPath id="cin"><circle cx="840.8" cy="190.8" r="59.2"/></clipPath></defs>
<path d="M911.60,190.80 L911.50,194.51 L911.21,198.20 L910.73,201.88 L910.05,205.52 L909.19,209.12 L908.13,212.68 L906.90,216.17 L905.48,219.60 L903.88,222.94 L902.30,226.31 L900.63,229.66 L898.78,232.92 L896.75,236.11 L894.22,238.90 L891.40,241.40 L888.46,243.74 L885.42,245.91 L882.42,248.08 L879.36,250.18 L876.20,252.11 L872.94,253.88 L869.60,255.48 L866.17,256.90 L862.68,258.13 L859.12,259.19 L855.52,260.05 L851.88,260.73 L848.20,261.21 L844.51,261.50 L840.80,261.60 L837.09,261.50 L833.40,261.21 L829.72,260.73 L826.08,260.05 L822.48,259.19 L818.92,258.13 L815.43,256.90 L812.00,255.48 L808.66,253.88 L805.40,252.11 L802.24,250.18 L799.18,248.08 L796.18,245.91 L793.14,243.74 L790.20,241.40 L787.38,238.90 L784.85,236.11 L782.82,232.92 L780.97,229.66 L779.30,226.31 L777.72,222.94 L776.12,219.60 L774.70,216.17 L773.47,212.68 L772.41,209.12 L771.55,205.52 L770.87,201.88 L770.39,198.20 L770.10,194.51 L770.00,190.80 L770.10,187.09 L770.39,183.40 L770.87,179.72 L771.55,176.08 L772.41,172.48 L773.47,168.92 L774.70,165.43 L776.12,162.00 L777.72,158.66 L779.49,155.40 L781.42,152.24 L783.26,148.99 L785.27,145.84 L787.46,142.77 L789.82,139.82 L792.77,137.46 L795.84,135.27 L798.99,133.26 L802.24,131.42 L805.40,129.49 L808.66,127.72 L812.00,126.12 L815.43,124.70 L818.92,123.47 L822.48,122.41 L826.08,121.55 L829.72,120.87 L833.40,120.39 L837.09,120.10 L840.80,120.00 L844.51,120.10 L848.20,120.39 L851.88,120.87 L855.52,121.55 L859.12,122.41 L862.68,123.47 L866.17,124.70 L869.60,126.12 L872.94,127.72 L876.20,129.49 L879.36,131.42 L882.42,133.52 L885.42,135.69 L888.46,137.86 L891.40,140.20 L894.22,142.70 L896.75,145.49 L898.78,148.68 L900.63,151.94 L902.30,155.29 L903.88,158.66 L905.48,162.00 L906.90,165.43 L908.13,168.92 L909.19,172.48 L910.05,176.08 L910.73,179.72 L911.21,183.40 L911.50,187.09 L911.60,190.80" stroke="#666" stroke-width="1.0" fill="none" />
<path d="M777.09,167.61 L778.45,164.17 L779.99,160.81 L781.72,157.54 L783.62,154.37 L785.69,151.31 L787.92,148.36 L790.32,145.54 L792.86,142.86 L795.54,140.32 L798.36,137.92 L801.31,135.69 L804.37,133.62 L807.54,131.72 L810.81,129.99 L814.17,128.45 L817.61,127.09" stroke="#8a8a8a" stroke-width="0.7" fill="none" />
<path d="M863.99,127.09 L867.43,128.45 L870.79,129.99 L874.06,131.72 L877.23,133.62 L880.29,135.69 L883.24,137.92 L886.06,140.32 L888.74,142.86 L891.28,145.54 L893.68,148.36 L895.91,151.31 L897.98,154.37 L899.88,157.54 L901.61,160.81 L903.15,164.17 L904.51,167.61" stroke="#8a8a8a" stroke-width="0.7" fill="none" />
<path d="M904.51,213.99 L903.15,217.43 L901.61,220.79 L899.88,224.06 L897.98,227.23 L895.91,230.29 L893.68,233.24 L891.28,236.06 L888.74,238.74 L886.06,241.28 L883.24,243.68 L880.29,245.91 L877.23,247.98 L874.06,249.88 L870.79,251.61 L867.43,253.15 L863.99,254.51" stroke="#8a8a8a" stroke-width="0.7" fill="none" />
<path d="M817.61,254.51 L814.17,253.15 L810.81,251.61 L807.54,249.88 L804.37,247.98 L801.31,245.91 L798.36,243.68 L795.54,241.28 L792.86,238.74 L790.32,236.06 L787.92,233.24 L785.69,230.29 L783.62,227.23 L781.72,224.06 L779.99,220.79 L778.45,217.43 L777.09,213.99" stroke="#8a8a8a" stroke-width="0.7" fill="none" />
<path d="M907.00,190.80 L906.91,194.26 L906.64,197.72 L906.18,201.16 L905.55,204.56 L904.74,207.93 L903.76,211.26 L902.60,214.52 L901.28,217.73 L899.78,220.85 L898.13,223.90 L896.32,226.86 L894.36,229.71 L892.25,232.46 L890.00,235.10 L887.61,237.61 L885.10,240.00 L882.46,242.25 L879.71,244.36 L876.86,246.32 L873.90,248.13 L870.85,249.78 L867.73,251.28 L864.52,252.60 L861.26,253.76 L857.93,254.74 L854.56,255.55 L851.16,256.18 L847.72,256.64 L844.26,256.91 L840.80,257.00 L837.34,256.91 L833.88,256.64 L830.44,256.18 L827.04,255.55 L823.67,254.74 L820.34,253.76 L817.08,252.60 L813.87,251.28 L810.75,249.78 L807.70,248.13 L804.74,246.32 L801.89,244.36 L799.14,242.25 L796.50,240.00 L793.99,237.61 L791.60,235.10 L789.35,232.46 L787.24,229.71 L785.28,226.86 L783.47,223.90 L781.82,220.85 L780.32,217.73 L779.00,214.52 L777.84,211.26 L776.86,207.93 L776.05,204.56 L775.42,201.16 L774.96,197.72 L774.69,194.26 L774.60,190.80 L774.69,187.34 L774.96,183.88 L775.42,180.44 L776.05,177.04 L776.86,173.67 L777.84,170.34 L779.00,167.08 L780.32,163.87 L781.82,160.75 L783.47,157.70 L785.28,154.74 L787.24,151.89 L789.35,149.14 L791.60,146.50 L793.99,143.99 L796.50,141.60 L799.14,139.35 L801.89,137.24 L804.74,135.28 L807.70,133.47 L810.75,131.82 L813.87,130.32 L817.08,129.00 L820.34,127.84 L823.67,126.86 L827.04,126.05 L830.44,125.42 L833.88,124.96 L837.34,124.69 L840.80,124.60 L844.26,124.69 L847.72,124.96 L851.16,125.42 L854.56,126.05 L857.93,126.86 L861.26,127.84 L864.52,129.00 L867.73,130.32 L870.85,131.82 L873.90,133.47 L876.86,135.28 L879.71,137.24 L882.46,139.35 L885.10,141.60 L887.61,143.99 L890.00,146.50 L892.25,149.14 L894.36,151.89 L896.32,154.74 L898.13,157.70 L899.78,160.75 L901.28,163.87 L902.60,167.08 L903.76,170.34 L904.74,173.67 L905.55,177.04 L906.18,180.44 L906.64,183.88 L906.91,187.34 L907.00,190.80" stroke="#8a8a8a" stroke-width="0.8" fill="none" />
<circle cx="840.80" cy="190.80" r="61.20" stroke="#555" stroke-width="1.0" fill="none" />
<circle cx="840.80" cy="190.80" r="59.40" stroke="#555" stroke-width="0.9" fill="none" />
<circle cx="840.80" cy="190.80" r="41.00" stroke="#8a8a8a" stroke-width="0.7" fill="none" />
<g clip-path="url(#cin)">
<rect x="811.80" y="125.00" width="19.90" height="36.00" rx="0" stroke="#8a8a8a" stroke-width="0.8" fill="#fff"/>
<rect x="813.40" y="125" width="1.50" height="36" fill="#c8c8c8" stroke="#666" stroke-width="0.6"/>
<rect x="816.32" y="125" width="1.50" height="36" fill="#c8c8c8" stroke="#666" stroke-width="0.6"/>
<rect x="819.23" y="125" width="1.50" height="36" fill="#c8c8c8" stroke="#666" stroke-width="0.6"/>
<rect x="822.15" y="125" width="1.50" height="36" fill="#c8c8c8" stroke="#666" stroke-width="0.6"/>
<rect x="825.07" y="125" width="1.50" height="36" fill="#c8c8c8" stroke="#666" stroke-width="0.6"/>
<rect x="827.98" y="125" width="1.50" height="36" fill="#c8c8c8" stroke="#666" stroke-width="0.6"/>
<line x1="830.50" y1="125.00" x2="830.50" y2="161.00" stroke="#8a8a8a" stroke-width="0.6" />
<rect x="852.10" y="125.00" width="19.40" height="37.00" rx="0" stroke="#8a8a8a" stroke-width="0.8" fill="#fff"/>
<rect x="853.70" y="125" width="1.50" height="37" fill="#c8c8c8" stroke="#666" stroke-width="0.6"/>
<rect x="856.53" y="125" width="1.50" height="37" fill="#c8c8c8" stroke="#666" stroke-width="0.6"/>
<rect x="859.37" y="125" width="1.50" height="37" fill="#c8c8c8" stroke="#666" stroke-width="0.6"/>
<rect x="862.20" y="125" width="1.50" height="37" fill="#c8c8c8" stroke="#666" stroke-width="0.6"/>
<rect x="865.03" y="125" width="1.50" height="37" fill="#c8c8c8" stroke="#666" stroke-width="0.6"/>
<rect x="867.87" y="125" width="1.50" height="37" fill="#c8c8c8" stroke="#666" stroke-width="0.6"/>
<line x1="870.30" y1="125.00" x2="870.30" y2="162.00" stroke="#8a8a8a" stroke-width="0.6" />
<rect x="811.80" y="218.20" width="18.30" height="37.80" rx="0" stroke="#8a8a8a" stroke-width="0.8" fill="#fff"/>
<rect x="852.10" y="218.20" width="15.90" height="37.80" rx="0" stroke="#8a8a8a" stroke-width="0.8" fill="#fff"/>
<line x1="813.60" y1="218.20" x2="813.60" y2="256.00" stroke="#8a8a8a" stroke-width="0.7" />
<line x1="819.80" y1="218.20" x2="819.80" y2="256.00" stroke="#8a8a8a" stroke-width="0.7" />
<line x1="822.10" y1="218.20" x2="822.10" y2="256.00" stroke="#8a8a8a" stroke-width="0.7" />
<line x1="824.50" y1="218.20" x2="824.50" y2="256.00" stroke="#8a8a8a" stroke-width="0.7" />
<line x1="854.00" y1="218.20" x2="854.00" y2="256.00" stroke="#8a8a8a" stroke-width="0.7" />
<line x1="858.00" y1="218.20" x2="858.00" y2="256.00" stroke="#8a8a8a" stroke-width="0.7" />
<line x1="862.50" y1="218.20" x2="862.50" y2="256.00" stroke="#8a8a8a" stroke-width="0.7" />
<line x1="864.50" y1="218.20" x2="864.50" y2="256.00" stroke="#8a8a8a" stroke-width="0.7" />
</g>
<line x1="792.50" y1="160.60" x2="811.80" y2="160.60" stroke="#8a8a8a" stroke-width="0.8" />
<line x1="871.50" y1="162.00" x2="890.20" y2="162.00" stroke="#8a8a8a" stroke-width="0.8" />
<line x1="790.40" y1="218.20" x2="811.80" y2="218.20" stroke="#8a8a8a" stroke-width="0.8" />
<line x1="868.00" y1="218.20" x2="880.00" y2="218.20" stroke="#8a8a8a" stroke-width="0.8" />
<circle cx="841.20" cy="149.50" r="4.30" stroke="#8a8a8a" stroke-width="0.9" fill="none" />
<circle cx="841.20" cy="149.50" r="1.60" stroke="#8a8a8a" stroke-width="0.7" fill="#555" />
<circle cx="839.60" cy="231.60" r="4.30" stroke="#8a8a8a" stroke-width="0.9" fill="none" />
<circle cx="839.60" cy="231.60" r="1.60" stroke="#8a8a8a" stroke-width="0.7" fill="#555" />
<circle cx="799.30" cy="189.80" r="4.30" stroke="#8a8a8a" stroke-width="0.9" fill="none" />
<circle cx="799.30" cy="189.80" r="1.60" stroke="#8a8a8a" stroke-width="0.7" fill="#555" />
<circle cx="881.60" cy="191.20" r="4.30" stroke="#8a8a8a" stroke-width="0.9" fill="none" />
<circle cx="881.60" cy="191.20" r="1.60" stroke="#8a8a8a" stroke-width="0.7" fill="#555" />
<line x1="831.70" y1="149.50" x2="836.90" y2="149.50" stroke="#8a8a8a" stroke-width="0.6" />
<line x1="845.50" y1="149.50" x2="852.10" y2="149.50" stroke="#8a8a8a" stroke-width="0.6" />
<line x1="830.10" y1="231.60" x2="835.30" y2="231.60" stroke="#8a8a8a" stroke-width="0.6" />
<line x1="843.90" y1="231.60" x2="852.10" y2="231.60" stroke="#8a8a8a" stroke-width="0.6" />
<circle cx="801.80" cy="151.20" r="4.30" stroke="#8a8a8a" stroke-width="1.0" fill="none" />
<circle cx="801.80" cy="151.20" r="1.80" stroke="#8a8a8a" stroke-width="0.8" fill="#333" />
<circle cx="880.70" cy="152.50" r="4.30" stroke="#8a8a8a" stroke-width="1.0" fill="none" />
<circle cx="880.70" cy="152.50" r="1.80" stroke="#8a8a8a" stroke-width="0.8" fill="#333" />
<circle cx="801.50" cy="229.00" r="4.30" stroke="#8a8a8a" stroke-width="1.0" fill="none" />
<circle cx="801.50" cy="229.00" r="1.80" stroke="#8a8a8a" stroke-width="0.8" fill="#333" />
<circle cx="879.30" cy="230.50" r="4.30" stroke="#8a8a8a" stroke-width="1.0" fill="none" />
<circle cx="879.30" cy="230.50" r="1.80" stroke="#8a8a8a" stroke-width="0.8" fill="#333" />
<circle cx="840.60" cy="124.00" r="1.80" stroke="#8a8a8a" stroke-width="0.8" fill="none" />
<circle cx="840.60" cy="257.20" r="1.80" stroke="#8a8a8a" stroke-width="0.8" fill="none" />
<circle cx="774.50" cy="190.20" r="1.80" stroke="#8a8a8a" stroke-width="0.8" fill="none" />
<circle cx="907.00" cy="190.60" r="1.80" stroke="#8a8a8a" stroke-width="0.8" fill="none" />
<line x1="844.00" y1="124.00" x2="851.00" y2="124.00" stroke="#8a8a8a" stroke-width="0.6" />
<line x1="844.00" y1="257.20" x2="851.00" y2="257.20" stroke="#8a8a8a" stroke-width="0.6" />
<path d="M834.5,239.5 L848,239.5 L848,251.5 L842,251.5 L842,249 L837,249 L837,251.5 L834.5,251.5 Z" stroke="#8a8a8a" stroke-width="0.8" fill="#fff" />
<circle cx="839.50" cy="245.60" r="2.20" stroke="#8a8a8a" stroke-width="0.9" fill="none" />
<circle cx="839.50" cy="245.60" r="0.90" stroke="#8a8a8a" stroke-width="0.6" fill="#333" />
<line x1="798.25" y1="241.51" x2="918.90" y2="97.73" stroke="#8a8a8a" stroke-width="0.9" />
<path d="M798.25,241.51 L801.98,235.51 L803.51,236.79 Z" fill="#151515" stroke="#151515" stroke-width="0.3"/>
<path d="M883.35,140.09 L879.62,146.09 L878.09,144.81 Z" fill="#151515" stroke="#151515" stroke-width="0.3"/>
<g transform="translate(839.42,189.64) rotate(-50.00)" font-family="Liberation Serif" font-size="24.8" fill="#151515" text-anchor="middle"><text transform="translate(87.10,0) scale(0.72,1)">0</text><line x1="83.50" y1="-0.5" x2="90.70" y2="-15.92" stroke="#151515" stroke-width="1.1"/><text transform="translate(98.50,0) scale(0.72,1)">1</text><text transform="translate(108.60,0) scale(0.72,1)">8</text><text transform="translate(118.60,0) scale(0.72,1)">6</text></g>
<line x1="803.80" y1="207.27" x2="952.25" y2="141.18" stroke="#8a8a8a" stroke-width="0.9" />
<path d="M803.80,207.27 L809.79,203.51 L810.60,205.34 Z" fill="#151515" stroke="#151515" stroke-width="0.3"/>
<path d="M877.80,174.33 L871.81,178.09 L871.00,176.26 Z" fill="#151515" stroke="#151515" stroke-width="0.3"/>
<g transform="translate(839.91,188.79) rotate(-24.00)" font-family="Liberation Serif" font-size="24.8" fill="#151515" text-anchor="middle"><text transform="translate(87.60,0) scale(0.72,1)">0</text><line x1="84.00" y1="-0.5" x2="91.20" y2="-15.92" stroke="#151515" stroke-width="1.1"/><text transform="translate(97.50,0) scale(0.72,1)">1</text><text transform="translate(106.60,0) scale(0.72,1)">1</text><text transform="translate(117.60,0) scale(0.72,1)">5</text></g>
<path d="M848.3,237.9 L888.6,200.4 L897.6,202.5 L897,209.4 L856.7,246.9 L849.5,247.5 Z" stroke="#8a8a8a" stroke-width="0.9" fill="#fff" />
<path d="M851.5,240.5 L889.5,205 L895.5,210.5" stroke="#8a8a8a" stroke-width="0.7" fill="none" />
<line x1="854.00" y1="247.00" x2="851.50" y2="240.50" stroke="#8a8a8a" stroke-width="0.6" />
<path d="M877.95,222.37 L930.45,277.07 L934.35,273.33 L881.85,218.63 A2.7,2.7 0 0 1 877.95,222.37 Z" stroke="#8a8a8a" stroke-width="0.9" fill="#fff" />
<line x1="885.57" y1="230.31" x2="889.46" y2="226.57" stroke="#8a8a8a" stroke-width="0.8" />
<line x1="886.61" y1="231.39" x2="890.50" y2="227.65" stroke="#8a8a8a" stroke-width="0.8" />
<path d="M926.78,272.27 L930.94,276.60 L933.86,273.80 L929.71,269.47 Z" stroke="#222" stroke-width="0.6" fill="#222" />
<path d="M866.74,232.75 L919.74,288.95 L923.66,285.25 L870.66,229.05 A2.7,2.7 0 0 1 866.74,232.75 Z" stroke="#8a8a8a" stroke-width="0.9" fill="#fff" />
<line x1="874.28" y1="240.76" x2="878.21" y2="237.05" stroke="#8a8a8a" stroke-width="0.8" />
<line x1="875.31" y1="241.85" x2="879.24" y2="238.14" stroke="#8a8a8a" stroke-width="0.8" />
<path d="M916.11,284.12 L920.23,288.49 L923.17,285.71 L919.06,281.35 Z" stroke="#222" stroke-width="0.6" fill="#222" />
<circle cx="879.10" cy="230.50" r="4.30" stroke="#8a8a8a" stroke-width="1.0" fill="#fff" />
<circle cx="879.10" cy="230.50" r="2.00" stroke="#8a8a8a" stroke-width="0.9" fill="#333" />
<g transform="translate(0.00,210.00) rotate(0.00)" font-family="Liberation Serif" font-size="24.8" fill="#151515" text-anchor="middle"><text transform="translate(918.50,0) scale(0.58,1)">L</text><text transform="translate(927.20,0) scale(0.62,1)">=</text><text transform="translate(936.30,0) scale(0.685,1)">5</text><text transform="translate(943.60,0) scale(0.685,1)">0</text><text transform="translate(952.50,0) scale(0.74,1)">0</text><text transform="translate(963.70,0) scale(0.45,1)">m</text><text transform="translate(972.00,0) scale(0.45,1)">m</text></g>
<line x1="931.90" y1="211.00" x2="976.60" y2="211.00" stroke="#8a8a8a" stroke-width="0.9" />
<line x1="931.90" y1="211.00" x2="903.70" y2="239.60" stroke="#8a8a8a" stroke-width="0.9" />
<path d="M903.70,239.60 L907.90,233.91 L909.33,235.32 Z" fill="#151515" stroke="#151515" stroke-width="0.3"/>
<g transform="translate(0.00,281.00) rotate(0.00)" font-family="Liberation Serif" font-size="24.8" fill="#151515" text-anchor="middle"><text transform="translate(860.80,0) scale(0.685,1)">4</text><line x1="866.20" y1="-6.6" x2="872.80" y2="-6.6" stroke="#151515" stroke-width="1.1"/><text transform="translate(878.60,0) scale(0.42,1)">M</text><text transform="translate(887.40,0) scale(0.685,1)">6</text></g>
<line x1="858.40" y1="282.10" x2="891.00" y2="282.10" stroke="#8a8a8a" stroke-width="0.9" />
<line x1="858.40" y1="282.10" x2="841.70" y2="258.00" stroke="#8a8a8a" stroke-width="0.9" />
<path d="M841.70,258.50 L846.56,263.64 L844.93,264.79 Z" fill="#151515" stroke="#151515" stroke-width="0.3"/>
<g transform="translate(734.95,284.58) rotate(-27.49)" font-family="Liberation Serif" font-size="24.8" fill="#151515" text-anchor="middle"><text transform="translate(6.10,0) scale(0.685,1)">4</text><line x1="11.44" y1="-6.6" x2="18.37" y2="-6.6" stroke="#151515" stroke-width="1.1"/><text transform="translate(25.30,0) scale(0.47,1)">M</text><text transform="translate(34.30,0) scale(0.685,1)">5</text><path d="M41.50,-15.5 L52.50,-15.5 M43.50,-15.5 L47.30,-1 L50.80,-15.5" stroke="#151515" stroke-width="0.75" fill="none"/><text transform="translate(60.40,0) scale(0.685,1)">9</text></g>
<line x1="736.10" y1="286.80" x2="806.00" y2="250.40" stroke="#8a8a8a" stroke-width="0.9" />
<line x1="806.00" y1="250.40" x2="802.50" y2="234.50" stroke="#8a8a8a" stroke-width="0.9" />
<path d="M802.30,233.80 L804.80,240.41 L802.85,240.85 Z" fill="#151515" stroke="#151515" stroke-width="0.3"/>
</svg></body></html>
